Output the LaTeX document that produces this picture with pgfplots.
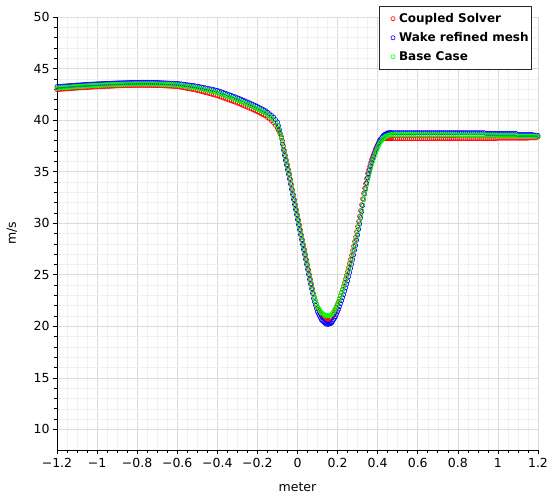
\documentclass[border=0pt]{standalone}
\usepackage{fontspec}
\setmainfont{DejaVu Sans}
\usepackage{pgfplots}
\usepackage{pgfplotstable}
\pgfplotsset{compat=1.18}

\definecolor{bgreen}{RGB}{0,255,0}

% x, Coupled Solver (r), Wake refined mesh (b), Base Case (g)
\pgfplotstableread{
x r b g
-1.20 42.95 43.25 43.10
-1.19 42.97 43.27 43.12
-1.18 42.98 43.28 43.13
-1.17 43.00 43.30 43.15
-1.16 43.01 43.31 43.16
-1.15 43.03 43.33 43.18
-1.14 43.04 43.34 43.19
-1.13 43.06 43.36 43.21
-1.12 43.07 43.37 43.22
-1.11 43.09 43.39 43.24
-1.10 43.10 43.40 43.25
-1.09 43.11 43.41 43.26
-1.08 43.12 43.42 43.27
-1.07 43.14 43.44 43.29
-1.06 43.15 43.45 43.30
-1.05 43.16 43.46 43.31
-1.04 43.17 43.47 43.32
-1.03 43.19 43.49 43.34
-1.02 43.20 43.50 43.35
-1.01 43.21 43.51 43.36
-1.00 43.22 43.52 43.37
-0.99 43.23 43.53 43.38
-0.98 43.24 43.54 43.39
-0.97 43.25 43.55 43.40
-0.96 43.26 43.56 43.41
-0.95 43.27 43.57 43.42
-0.94 43.27 43.57 43.42
-0.93 43.28 43.58 43.43
-0.92 43.29 43.59 43.44
-0.91 43.30 43.60 43.45
-0.90 43.31 43.61 43.46
-0.89 43.32 43.62 43.47
-0.88 43.32 43.62 43.47
-0.87 43.33 43.63 43.48
-0.86 43.33 43.63 43.48
-0.85 43.34 43.64 43.49
-0.84 43.34 43.64 43.49
-0.83 43.35 43.65 43.50
-0.82 43.35 43.65 43.50
-0.81 43.36 43.66 43.51
-0.80 43.36 43.66 43.51
-0.79 43.36 43.66 43.51
-0.78 43.36 43.66 43.51
-0.77 43.36 43.66 43.51
-0.76 43.36 43.66 43.51
-0.75 43.36 43.66 43.51
-0.74 43.36 43.66 43.51
-0.73 43.36 43.66 43.51
-0.72 43.35 43.65 43.50
-0.71 43.35 43.65 43.50
-0.70 43.35 43.65 43.50
-0.69 43.34 43.64 43.49
-0.68 43.33 43.63 43.48
-0.67 43.32 43.62 43.47
-0.66 43.31 43.61 43.46
-0.65 43.30 43.60 43.45
-0.64 43.29 43.59 43.44
-0.63 43.28 43.58 43.43
-0.62 43.27 43.57 43.42
-0.61 43.26 43.56 43.41
-0.60 43.25 43.55 43.40
-0.59 43.22 43.53 43.38
-0.58 43.18 43.51 43.35
-0.57 43.15 43.48 43.32
-0.56 43.11 43.45 43.29
-0.55 43.07 43.43 43.26
-0.54 43.03 43.40 43.23
-0.53 43.00 43.37 43.20
-0.52 42.96 43.35 43.17
-0.51 42.92 43.32 43.14
-0.50 42.87 43.28 43.10
-0.49 42.83 43.25 43.06
-0.48 42.78 43.21 43.02
-0.47 42.73 43.17 42.98
-0.46 42.67 43.13 42.93
-0.45 42.63 43.09 42.89
-0.44 42.57 43.04 42.84
-0.43 42.52 43.01 42.80
-0.42 42.46 42.96 42.75
-0.41 42.41 42.91 42.70
-0.40 42.35 42.87 42.65
-0.39 42.29 42.81 42.59
-0.38 42.22 42.74 42.52
-0.37 42.15 42.67 42.45
-0.36 42.08 42.60 42.38
-0.35 42.01 42.53 42.31
-0.34 41.94 42.46 42.24
-0.33 41.87 42.39 42.17
-0.32 41.80 42.32 42.10
-0.31 41.73 42.25 42.03
-0.30 41.65 42.17 41.95
-0.29 41.57 42.09 41.87
-0.28 41.49 42.01 41.79
-0.27 41.41 41.93 41.71
-0.26 41.32 41.84 41.62
-0.25 41.24 41.76 41.54
-0.24 41.15 41.67 41.45
-0.23 41.07 41.59 41.37
-0.22 40.98 41.50 41.28
-0.21 40.89 41.41 41.19
-0.20 40.80 41.32 41.10
-0.19 40.70 41.22 41.00
-0.18 40.60 41.12 40.90
-0.17 40.50 41.02 40.80
-0.16 40.40 40.92 40.70
-0.15 40.25 40.77 40.55
-0.14 40.10 40.62 40.40
-0.13 39.93 40.45 40.23
-0.12 39.75 40.30 40.05
-0.11 39.50 40.05 39.80
-0.100 39.20 39.80 39.50
-0.095 39.00 39.45 39.20
-0.090 38.80 39.05 38.90
-0.085 38.60 38.65 38.60
-0.080 38.40 38.25 38.30
-0.075 37.98 37.68 37.83
-0.070 37.50 37.10 37.35
-0.065 37.03 36.58 36.88
-0.060 36.55 36.10 36.40
-0.055 36.10 35.65 35.95
-0.050 35.65 35.20 35.50
-0.045 35.20 34.75 35.05
-0.040 34.75 34.30 34.60
-0.035 34.25 33.80 34.10
-0.030 33.75 33.30 33.60
-0.025 33.25 32.80 33.10
-0.020 32.75 32.30 32.60
-0.015 32.26 31.81 32.11
-0.010 31.78 31.33 31.63
-0.005 31.29 30.84 31.14
0.000 30.80 30.35 30.65
0.005 30.31 29.86 30.16
0.010 29.83 29.38 29.68
0.015 29.34 28.89 29.19
0.020 28.85 28.40 28.70
0.025 28.38 27.93 28.23
0.030 27.90 27.45 27.75
0.035 27.43 26.98 27.28
0.040 26.95 26.50 26.80
0.045 26.46 26.01 26.31
0.050 25.98 25.53 25.83
0.055 25.49 25.04 25.34
0.060 25.00 24.55 24.85
0.065 24.55 24.10 24.40
0.070 24.10 23.65 23.95
0.075 23.65 23.20 23.50
0.080 23.15 22.70 23.05
0.085 22.81 22.36 22.76
0.090 22.48 22.03 22.48
0.095 22.14 21.71 22.19
0.100 21.80 21.40 21.90
0.105 21.60 21.20 21.75
0.110 21.40 21.00 21.60
0.115 21.20 20.80 21.45
0.120 21.00 20.60 21.30
0.125 20.91 20.51 21.24
0.130 20.83 20.42 21.18
0.135 20.73 20.33 21.11
0.140 20.65 20.25 21.05
0.145 20.63 20.21 21.03
0.150 20.62 20.20 21.02
0.155 20.60 20.20 21.00
0.160 20.65 20.23 21.03
0.165 20.71 20.27 21.07
0.170 20.76 20.30 21.10
0.175 20.94 20.46 21.26
0.180 21.13 20.63 21.43
0.185 21.34 20.79 21.59
0.190 21.55 20.95 21.75
0.195 21.84 21.19 21.99
0.200 22.13 21.43 22.23
0.205 22.39 21.67 22.46
0.210 22.66 21.92 22.70
0.215 22.97 22.21 22.98
0.220 23.27 22.49 23.25
0.225 23.58 22.79 23.53
0.230 23.88 23.07 23.80
0.235 24.24 23.41 24.13
0.240 24.59 23.74 24.45
0.245 24.95 24.08 24.78
0.250 25.30 24.40 25.10
0.255 25.70 24.81 25.48
0.260 26.09 25.21 25.85
0.265 26.49 25.62 26.23
0.270 26.88 26.02 26.60
0.275 27.33 26.48 27.03
0.280 27.77 26.93 27.45
0.285 28.22 27.39 27.88
0.290 28.66 27.84 28.30
0.295 29.16 28.35 28.78
0.300 29.65 28.85 29.25
0.305 30.16 29.40 29.73
0.310 30.67 29.93 30.20
0.315 31.23 30.53 30.73
0.320 31.78 31.12 31.25
0.325 32.35 31.71 31.78
0.330 32.90 32.30 32.30
0.335 33.38 32.83 32.78
0.340 33.85 33.35 33.25
0.345 34.33 33.88 33.73
0.350 34.80 34.40 34.20
0.355 35.15 34.79 34.58
0.360 35.49 35.17 34.95
0.365 35.84 35.56 35.33
0.370 36.18 35.94 35.70
0.375 36.44 36.24 35.99
0.380 36.70 36.54 36.28
0.385 36.95 36.83 36.56
0.390 37.21 37.13 36.85
0.395 37.41 37.37 37.08
0.400 37.60 37.60 37.30
0.405 37.77 37.83 37.53
0.410 37.93 38.05 37.75
0.415 38.00 38.18 37.88
0.420 38.06 38.30 38.00
0.425 38.13 38.43 38.13
0.430 38.20 38.55 38.25
0.435 38.20 38.60 38.31
0.440 38.20 38.66 38.38
0.445 38.20 38.71 38.44
0.450 38.20 38.75 38.50
0.455 38.20 38.77 38.53
0.460 38.20 38.78 38.55
0.465 38.20 38.78 38.58
0.470 38.20 38.78 38.60
0.48 38.20 38.78 38.60
0.49 38.20 38.78 38.60
0.50 38.20 38.78 38.60
0.51 38.20 38.78 38.60
0.52 38.20 38.78 38.60
0.53 38.20 38.78 38.60
0.54 38.20 38.78 38.60
0.55 38.20 38.78 38.60
0.56 38.20 38.78 38.60
0.57 38.20 38.78 38.60
0.58 38.20 38.78 38.60
0.59 38.20 38.78 38.60
0.60 38.20 38.78 38.57
0.61 38.20 38.78 38.57
0.62 38.20 38.78 38.57
0.63 38.20 38.78 38.57
0.64 38.20 38.78 38.57
0.65 38.20 38.78 38.57
0.66 38.20 38.78 38.57
0.67 38.20 38.78 38.57
0.68 38.20 38.78 38.57
0.69 38.20 38.78 38.57
0.70 38.20 38.78 38.57
0.71 38.20 38.78 38.57
0.72 38.20 38.78 38.57
0.73 38.20 38.78 38.57
0.74 38.20 38.78 38.57
0.75 38.20 38.78 38.57
0.76 38.20 38.78 38.57
0.77 38.20 38.78 38.57
0.78 38.20 38.78 38.57
0.79 38.20 38.78 38.57
0.80 38.20 38.78 38.53
0.81 38.20 38.78 38.53
0.82 38.20 38.78 38.53
0.83 38.20 38.78 38.53
0.84 38.20 38.78 38.53
0.85 38.20 38.78 38.53
0.86 38.20 38.78 38.53
0.87 38.20 38.78 38.53
0.88 38.20 38.78 38.53
0.89 38.20 38.78 38.53
0.90 38.20 38.78 38.53
0.91 38.20 38.78 38.53
0.92 38.20 38.78 38.53
0.93 38.20 38.78 38.53
0.94 38.20 38.70 38.53
0.95 38.20 38.70 38.53
0.96 38.20 38.70 38.53
0.97 38.20 38.70 38.53
0.98 38.20 38.70 38.53
0.99 38.20 38.70 38.53
1.00 38.24 38.70 38.49
1.01 38.24 38.70 38.49
1.02 38.24 38.70 38.49
1.03 38.24 38.70 38.49
1.04 38.24 38.70 38.49
1.05 38.24 38.70 38.49
1.06 38.24 38.70 38.49
1.07 38.24 38.70 38.49
1.08 38.24 38.70 38.49
1.09 38.24 38.70 38.49
1.10 38.24 38.60 38.45
1.11 38.24 38.60 38.45
1.12 38.24 38.60 38.45
1.13 38.24 38.60 38.45
1.14 38.24 38.60 38.45
1.15 38.24 38.60 38.45
1.16 38.28 38.60 38.45
1.17 38.28 38.60 38.45
1.18 38.28 38.55 38.45
1.19 38.28 38.55 38.45
1.20 38.35 38.50 38.42
}\velocity

\begin{document}
\begin{tikzpicture}
\begin{axis}[
    scale only axis,
    width=481pt, height=433pt,
    xmin=-1.2, xmax=1.2, ymin=8, ymax=50,
    axis x line=bottom, axis y line=left,
    axis line style={-, black, line width=0.7pt},
    xtick={-1.2,-1,-0.8,-0.6,-0.4,-0.2,0,0.2,0.4,0.6,0.8,1,1.2},
    xticklabels={−1.2,−1,−0.8,−0.6,−0.4,−0.2,0,0.2,0.4,0.6,0.8,1,1.2},
    ytick={10,15,20,25,30,35,40,45,50},
    yticklabels={10,15,20,25,30,35,40,45,50},
    minor x tick num=3, minor y tick num=4,
    grid=both,
    major grid style={black!14, line width=0.6pt},
    minor grid style={black!6, line width=0.5pt},
    tick align=outside,
    major tick length=4pt, minor tick length=2.5pt,
    tick style={black, line width=0.6pt},
    ticklabel style={font=\fontsize{12.5}{14}\selectfont},
    xticklabel style={yshift=-1pt},
    xlabel={meter}, ylabel={m/s},
    label style={font=\fontsize{12.5}{14}\selectfont},
    xlabel style={at={(axis description cs:0.5,-0.0855)}, anchor=center},
    ylabel style={at={(axis description cs:-0.0936,0.5)}, anchor=center},
    legend cell align=left,
    legend image code/.code={
        \path[draw=none] (-13pt,0pt) -- (4pt,0pt);
        \draw[#1, only marks] plot coordinates {(0pt,0pt)};
    },
    legend style={at={(1,1)}, anchor=north east, xshift=-6pt, yshift=11pt,
        draw=black!85, line width=0.7pt, fill=white,
        font=\bfseries\fontsize{12}{14}\selectfont,
        row sep=4.5pt, inner xsep=1pt, inner ysep=5pt},
]
\addplot[only marks, mark=o, mark size=2.1pt, red, line width=0.6pt]
    table[x=x, y=r] {\velocity};
\addlegendentry{Coupled Solver}
\addplot[only marks, mark=o, mark size=2.1pt, blue, line width=0.6pt]
    table[x=x, y=b] {\velocity};
\addlegendentry{Wake refined mesh}
\addplot[only marks, mark=o, mark size=2.1pt, bgreen, line width=0.6pt]
    table[x=x, y=g] {\velocity};
\addlegendentry{Base Case}
\end{axis}
\pgfresetboundingbox
\path[use as bounding box] (-57pt,-49pt) rectangle (493pt,450pt);
\end{tikzpicture}
\end{document}
